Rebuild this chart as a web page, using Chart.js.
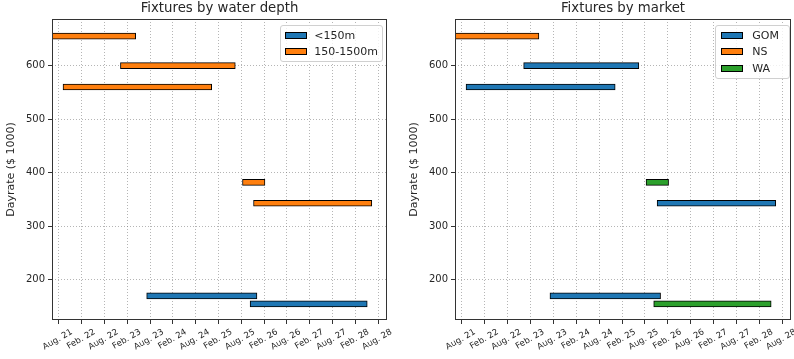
<!DOCTYPE html>
<html>
<head>
<meta charset="utf-8">
<script src="https://cdn.jsdelivr.net/npm/chart.js@4.4.0/dist/chart.umd.min.js"></script>
<style>
body { margin: 0; background: #fff; font-family: "DejaVu Sans", sans-serif; }
#wrap { position: relative; width: 794px; height: 359px; }
.panel { position: absolute; top: 0; width: 397px; height: 359px; }
.legend { position: absolute; top: 25px; background: rgba(255,255,255,0.8); border: 1px solid #d0d0d0;
  border-radius: 3px; font-size: 11px; color: #262626; padding: 1px 4px 1px 4px; }
.legend .row { height: 16.5px; display: flex; align-items: center; white-space: nowrap; }
.legend .patch { width: 20px; height: 5px; border: 1px solid #000; margin-right: 7px; }
#marketLegend { padding: 1px 10px 1px 5px; }
#marketLegend .patch { margin-right: 9px; }
</style>
</head>
<body>
<div id="wrap">
  <div class="panel" style="left:0"><canvas id="depthChart" width="397" height="359"></canvas></div>
  <div class="panel" style="left:397px"><canvas id="marketChart" width="397" height="359"></canvas></div>
  <div class="legend" id="depthLegend" style="right:411px"></div>
  <div class="legend" id="marketLegend" style="right:4px"></div>
</div>
<script>
// x axis runs in months counted from Aug 2021
var xTickMonths = [0, 6, 12, 18, 24, 30, 36, 42, 48, 54, 60, 66, 72, 78, 84];
var xTickLabels = ['Aug. 21', 'Feb. 22', 'Aug. 22', 'Feb. 23', 'Aug. 23', 'Feb. 24', 'Aug. 24', 'Feb. 25',
                   'Aug. 25', 'Feb. 26', 'Aug. 26', 'Feb. 27', 'Aug. 27', 'Feb. 28', 'Aug. 28'];
var yTicks = [200, 300, 400, 500, 600];

// one entry per fixture: dayrate ($1000), contract start / end (months)
var fixtureRate   = [655, 600, 560, 382, 343, 170, 155];
var fixtureStart  = [-3, 16.2, 1.1, 48.3, 51.2, 23.1, 50.3];
var fixtureEnd    = [20.2, 46.4, 40.2, 54.2, 82.3, 52.1, 81.1];
var fixtureDepth  = ['150-1500m', '150-1500m', '150-1500m', '150-1500m', '150-1500m', '<150m', '<150m'];
var fixtureMarket = ['NS', 'GOM', 'GOM', 'WA', 'GOM', 'GOM', 'WA'];

var depthGroups  = ['<150m', '150-1500m'];
var marketGroups = ['GOM', 'NS', 'WA'];
var groupColors  = ['#1f77b4', '#ff7f0e', '#2ca02c'];

Chart.defaults.font.family = "'DejaVu Sans', sans-serif";
Chart.defaults.color = '#262626';

function buildDatasets(groups, key) {
  return groups.map(function(g, i) {
    var pts = [];
    for (var k = 0; k < fixtureRate.length; k++) {
      if (key[k] == g) pts.push({ x: [fixtureStart[k], fixtureEnd[k]], y: fixtureRate[k] });
    }
    return {
      label: g,
      data: pts,
      backgroundColor: groupColors[i],
      borderColor: '#000',
      borderWidth: 1,
      borderSkipped: false,
      barThickness: 6,
      grouped: false,
      clip: 0
    };
  });
}

// axes frame + title centred over the plot area
var framePlugin = {
  id: 'frame',
  afterDatasetsDraw: function(chart) {
    var a = chart.chartArea, ctx = chart.ctx;
    ctx.save();
    ctx.strokeStyle = '#333';
    ctx.lineWidth = 1;
    ctx.strokeRect(Math.round(a.left) + 0.5, Math.round(a.top) + 0.5,
                   Math.round(a.right - a.left) - 1, Math.round(a.bottom - a.top) - 1);
    ctx.fillStyle = '#262626';
    ctx.font = "13.3px 'DejaVu Sans'";
    ctx.textAlign = 'center';
    ctx.textBaseline = 'middle';
    ctx.fillText(chart.options.panelTitle, (a.left + a.right) / 2, 9);
    ctx.restore();
  }
};

function makeChart(id, title, datasets, padLeft, padRight) {
  var gridOpts = { color: 'rgba(120,120,120,0.55)', lineWidth: 1, offset: false,
                   drawTicks: true, tickLength: 4, tickColor: '#333', tickWidth: 1, tickBorderDash: [] };
  return new Chart(document.getElementById(id), {
    type: 'bar',
    data: { datasets: datasets },
    plugins: [framePlugin],
    options: {
      panelTitle: title,
      indexAxis: 'y',
      responsive: false,
      animation: false,
      layout: { padding: { top: 19, left: padLeft, right: padRight, bottom: 0 } },
      plugins: { legend: { display: false }, tooltip: { enabled: false } },
      scales: {
        x: {
          type: 'linear', min: -1.8, max: 86.3,
          afterBuildTicks: function(s) { s.ticks = xTickMonths.map(function(v) { return { value: v }; }); },
          afterFit: function(s) { s.height = 39; },
          ticks: {
            autoSkip: false, minRotation: 30, maxRotation: 30, labelOffset: 13, padding: 3,
            font: { size: 8.5 },
            callback: function(v, i) { return xTickLabels[i]; }
          },
          grid: gridOpts,
          border: { display: false, dash: [1, 2] }
        },
        y: {
          type: 'linear', min: 125, max: 687, offset: false,
          afterBuildTicks: function(s) { s.ticks = yTicks.map(function(v) { return { value: v }; }); },
          afterFit: function(s) { s.width = 52; },
          ticks: { font: { size: 10 }, padding: 3 },
          title: { display: true, text: 'Dayrate ($ 1000)', font: { size: 11 }, padding: { top: 5, bottom: 0 } },
          grid: gridOpts,
          border: { display: false, dash: [1, 2] }
        }
      }
    }
  });
}

function makeLegend(id, groups) {
  var box = document.getElementById(id);
  groups.forEach(function(g, i) {
    var row = document.createElement('div');
    row.className = 'row';
    var patch = document.createElement('span');
    patch.className = 'patch';
    patch.style.background = groupColors[i];
    row.appendChild(patch);
    row.appendChild(document.createTextNode(g));
    box.appendChild(row);
  });
}

makeChart('depthChart', 'Fixtures by water depth', buildDatasets(depthGroups, fixtureDepth), 0, 10);
makeChart('marketChart', 'Fixtures by market', buildDatasets(marketGroups, fixtureMarket), 6, 3);
makeLegend('depthLegend', depthGroups);
makeLegend('marketLegend', marketGroups);
</script>
</body>
</html>
